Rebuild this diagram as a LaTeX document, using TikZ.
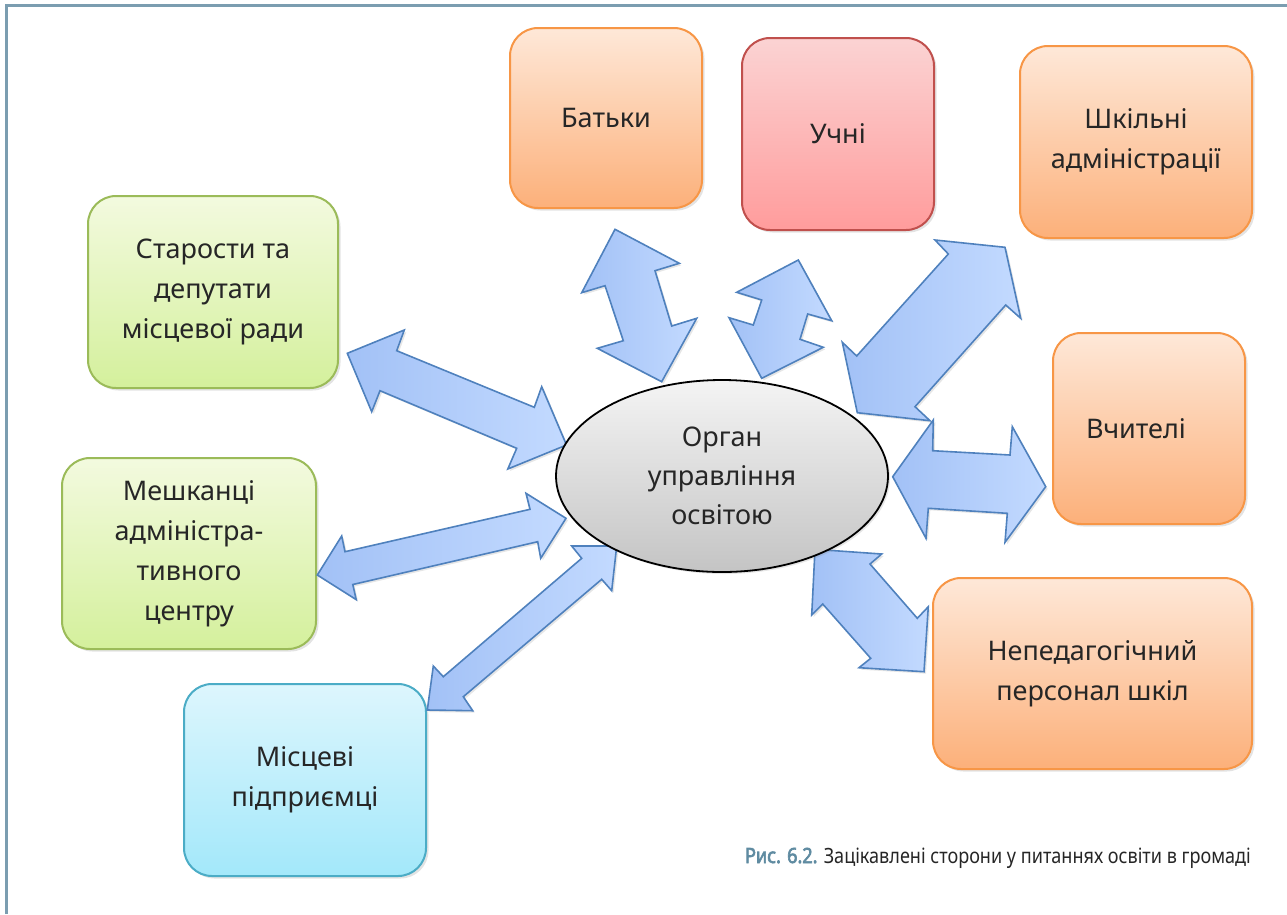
\documentclass[tikz,border=0pt]{standalone}
\usepackage{fontspec}
\setmainfont{Noto Sans}
\newfontfamily\capfont{Noto Sans}[FakeStretch=0.86]
\newfontfamily\capboldfont{Noto Sans}[FakeBold=3,FakeStretch=0.86]
\usetikzlibrary{shadows,shapes.geometric}
\definecolor{framec}{HTML}{7B9DB0}
\definecolor{txt}{HTML}{262626}
\definecolor{capc}{HTML}{5F8BA1}
\definecolor{orgTop}{HTML}{FEE8D8}
\definecolor{orgBot}{HTML}{FCB07A}
\definecolor{orgLine}{HTML}{F79646}
\definecolor{redTop}{HTML}{FBD3D3}
\definecolor{redBot}{HTML}{FF9C9C}
\definecolor{redLine}{HTML}{C0504D}
\definecolor{grnTop}{HTML}{F3FADF}
\definecolor{grnBot}{HTML}{D4F09C}
\definecolor{grnLine}{HTML}{9BBB59}
\definecolor{bluTop}{HTML}{DDF6FD}
\definecolor{bluBot}{HTML}{A3E8FA}
\definecolor{bluLine}{HTML}{4BACC6}
\definecolor{arrA}{HTML}{A2C1F6}
\definecolor{arrB}{HTML}{C3DAFF}
\definecolor{arrLine}{HTML}{4F81BD}
\definecolor{ellTop}{HTML}{F4F4F4}
\definecolor{ellBot}{HTML}{C4C4C4}
\tikzset{
  boxbase/.style={rounded corners=28pt, line width=2pt, inner sep=0pt, outer sep=0pt,
    align=center, text=txt, font=\fontsize{27}{40}\selectfont,
    drop shadow={shadow xshift=2.5pt, shadow yshift=-2.5pt, opacity=0.22}},
  orgbox/.style={boxbase, draw=orgLine, top color=orgTop, bottom color=orgBot},
  redbox/.style={boxbase, draw=redLine, top color=redTop, bottom color=redBot},
  grnbox/.style={boxbase, draw=grnLine, top color=grnTop, bottom color=grnBot},
  blubox/.style={boxbase, draw=bluLine, top color=bluTop, bottom color=bluBot},
  blockarrow/.style={draw=arrLine, line width=1.6pt, line join=miter,
    left color=arrA, right color=arrB,
    drop shadow={shadow xshift=2pt, shadow yshift=-2pt, opacity=0.2}},
}
\begin{document}
\begin{tikzpicture}[x=1pt,y=-1pt]
\useasboundingbox (0,0) rectangle (1287,914);
\draw[framec, line width=2.8pt] (6.3,914) -- (6.3,5.3) -- (1287,5.3);

% nodes
\node[orgbox, minimum width=192pt, minimum height=180pt] (batky) at (606,118) {Батьки};
\node[redbox, minimum width=192pt, minimum height=192pt] (uchni) at (838,134) {Учні};
\node[orgbox, minimum width=232pt, minimum height=192pt] (shkil) at (1136,142) {Шкільні\\адміністрації};
\node[orgbox, minimum width=192pt, minimum height=191pt] (vchyt) at (1149,428.5) {\hspace*{-26pt}Вчителі};
\node[orgbox, minimum width=319pt, minimum height=191pt] (neped) at (1092.5,673.5) {Непедагогічний\\персонал шкіл};
\node[blubox, minimum width=242pt, minimum height=192pt] (pidpr) at (305,780) {Місцеві\\підприємці};
\node[grnbox, minimum width=254pt, minimum height=191pt] (meshk) at (189,553.5) {Мешканці\\адміністра-\\тивного\\центру};
\node[grnbox, minimum width=250pt, minimum height=192pt] (star) at (213,292) {Старости та\\депутати\\місцевої ради};

% block arrows
\filldraw[blockarrow] (615,229.3) -- (679.3,263.3) -- (655,270.7) -- (671.7,326) -- (696.7,318.3)
  -- (661.7,381.7) -- (597.3,348.3) -- (623.3,340.7) -- (605,285.7) -- (581.7,292.7) -- cycle;
\filldraw[blockarrow] (798.3,260) -- (831.7,320.7) -- (807.7,314) -- (800,339.3) -- (823.3,347.3)
  -- (761.7,378.3) -- (729,317.7) -- (753.3,325) -- (761.7,300) -- (736.7,292.3) -- cycle;
\filldraw[blockarrow] (1005,247.3) -- (1020.7,318.3) -- (1005.7,305) -- (915,406.7) -- (930,420.7)
  -- (857.3,412.7) -- (842.3,342.3) -- (856.7,356) -- (948.3,254) -- (935,240) -- cycle;
\filldraw[blockarrow] (892.7,476.7) -- (933.3,420) -- (932.7,450.7) -- (1010,455) -- (1012.3,426.7)
  -- (1045.7,486.7) -- (1005,542.3) -- (1007.3,513.3) -- (928.3,508.3) -- (926,538.3) -- cycle;
\filldraw[blockarrow] (815,549.3) -- (881.7,554) -- (870,564) -- (917.3,618.3) -- (928.3,606.7)
  -- (924,671.7) -- (859,667.7) -- (870.7,658.3) -- (822.7,604) -- (811.7,615) -- cycle;
\filldraw[blockarrow] (347.3,353.3) -- (404.3,330) -- (396.7,350.7) -- (534.3,407.3) -- (541.7,386.7)
  -- (566.5,445) -- (507.8,469) -- (516.7,448.3) -- (380,390.7) -- (371.7,411.7) -- cycle;
\filldraw[blockarrow] (317.3,575) -- (341.7,536) -- (345,551.7) -- (530,509.3) -- (526,493.3)
  -- (566,518.3) -- (540.7,558.3) -- (537.7,541.7) -- (352.8,584.5) -- (356.2,599.6) -- cycle;
\filldraw[blockarrow] (616.7,546) -- (611.7,590.7) -- (601.7,579.3) -- (463.3,696.7) -- (472.7,710.7)
  -- (427.3,710) -- (433.3,666) -- (443.3,676.7) -- (581.7,558.3) -- (571.7,546) -- cycle;

% centre ellipse
\node[ellipse, draw=black, line width=1.8pt, top color=ellTop, bottom color=ellBot,
  minimum width=332pt, minimum height=192pt, inner sep=0pt, align=center, text=txt,
  font=\fontsize{27}{39}\selectfont,
  drop shadow={shadow xshift=2pt, shadow yshift=-2pt, opacity=0.2}] (organ) at (722,476)
  {Орган\\управління\\освітою};

% caption
\node[anchor=base east, inner sep=0pt, font=\capfont\fontsize{21}{24}\selectfont, text=txt] (cap) at (1251,863)
  {\textcolor{capc}{\capboldfont Рис. 6.2.} Зацікавлені сторони у питаннях освіти в громаді};
\end{tikzpicture}
\end{document}
